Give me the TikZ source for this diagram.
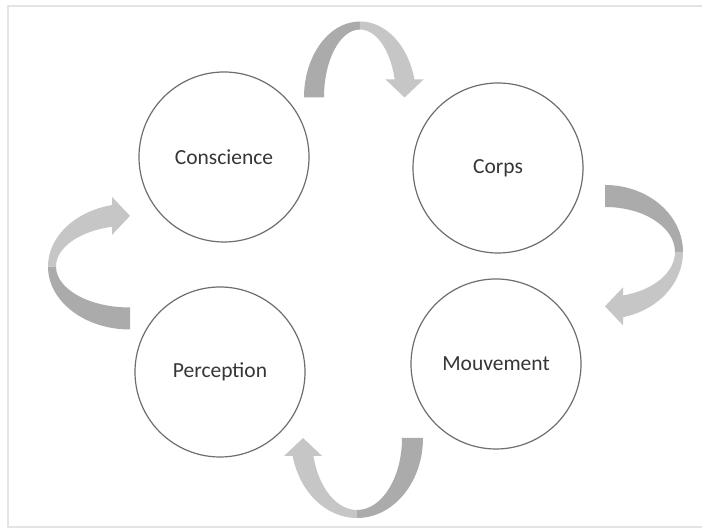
\documentclass[tikz,border=0pt]{standalone}
\usepackage{fontspec}
\setmainfont{Carlito}
\usetikzlibrary{calc}
\definecolor{ink}{HTML}{363636}
\definecolor{rim}{HTML}{6E6E6E}
\definecolor{frame}{HTML}{E4E4E4}
\definecolor{tailgray}{HTML}{ABABAB}
\definecolor{headgray}{HTML}{C6C6C6}
\tikzset{
  every node/.style={font=\fontsize{21.5}{24}\selectfont,text=ink,inner sep=0pt},
  stage/.style={circle,draw=rim,line width=1.2pt,fill=white,minimum size=170pt},
}
% #1 centre, #2 rotation, #3 outer span, #4 inner span, #5 depth
\newcommand{\turnarrow}[5]{%
  \begin{scope}[shift={(#1)},rotate=#2]
    \pgfmathsetmacro{\bin}{#5-8}
    \pgfmathsetmacro{\tout}{asin(18/#5)}
    \pgfmathsetmacro{\tin}{asin(18/\bin)}
    \pgfmathsetmacro{\xout}{#3*cos(\tout)}
    \pgfmathsetmacro{\xin}{#4*cos(\tin)}
    \pgfmathsetmacro{\hc}{(\xout+\xin)/2}
    \fill[tailgray] (-#3,0) arc[start angle=180,end angle=90,x radius=#3,y radius=#5]
      -- (0,\bin) arc[start angle=90,end angle=180,x radius=#4,y radius=\bin] -- cycle;
    \fill[headgray] (0,#5) arc[start angle=90,end angle=\tout,x radius=#3,y radius=#5]
      -- (\hc+19,18) -- (\hc,0) -- (\hc-19,18) -- (\xin,18)
      arc[start angle=\tin,end angle=90,x radius=#4,y radius=\bin] -- cycle;
  \end{scope}}

\begin{document}
\begin{tikzpicture}[x=1pt,y=1pt]
\path[use as bounding box] (0,0) rectangle (702,529);
\fill[white] (0,0) rectangle (702,529);
\draw[frame,line width=1.5pt] (702,523) -- (8,523) -- (8,2) -- (702,2);
% the four stages of the cycle
\node[stage] (conscience) at (224,372) {Conscience};
\node[stage] (corps) at (498,361) {Corps};
\node[stage] (mouvement) at (496,165) {Mouvement};
\node[stage] (perception) at (220,157) {Perception};
% curved arrows between the stages, clockwise
\coordinate (turnA) at ($(conscience)!.5!(corps)+(-1,65)$);
\coordinate (turnB) at ($(corps)!.5!(mouvement)+(108,14)$);
\coordinate (turnC) at ($(mouvement)!.5!(perception)+(-1,-70)$);
\coordinate (turnD) at ($(perception)!.5!(conscience)+(-92,-2)$);
\turnarrow{turnA}{0}{56}{36}{76}
\turnarrow{turnB}{-90}{67}{45}{78}
\turnarrow{turnC}{180}{66}{45}{80}
\turnarrow{turnD}{90}{63}{41}{82}
\end{tikzpicture}
\end{document}
